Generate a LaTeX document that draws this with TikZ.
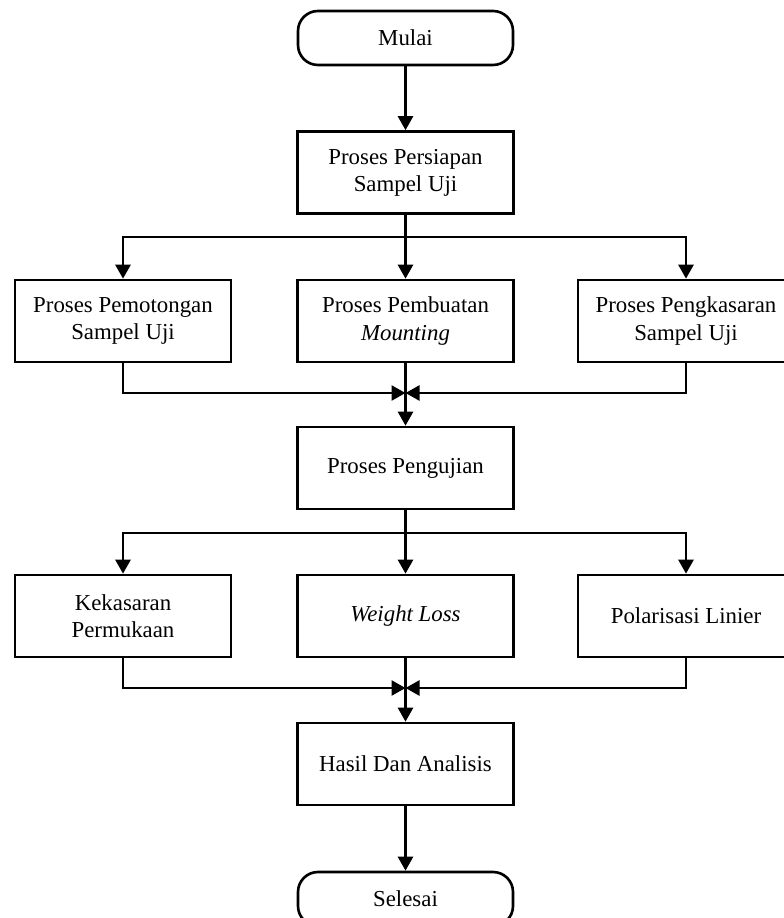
\documentclass[tikz,border=0pt]{standalone}
\usepackage{fontspec}
\setmainfont{Liberation Serif}
\usetikzlibrary{arrows.meta}
\begin{document}
\begin{tikzpicture}[
    font=\fontsize{13}{15.5}\selectfont,
    terminal/.style={rectangle, rounded corners=0.4cm, draw, line width=1.5pt, minimum width=4.3cm, minimum height=1.08cm},
    proses/.style={rectangle, draw, line width=1.5pt, minimum width=4.32cm, minimum height=1.64cm, align=center},
    arrow/.style={-{Triangle[length=0.28cm,width=0.3cm]}, line width=1.5pt}
]
\useasboundingbox (0,0) rectangle (15.68,-18.36);

% Start
\node[terminal] (mulai) at (8.11,-0.76) {Mulai};
\node[proses] (persiapan) at (8.11,-3.45) {Proses Persiapan\\Sampel Uji};

% Preparation
\node[proses] (potong) at (2.46,-6.42) {Proses Pemotongan\\Sampel Uji};
\node[proses] (mounting) at (8.11,-6.42) {Proses Pembuatan\\\textit{Mounting}};
\node[proses] (kasar) at (13.72,-6.42) {Proses Pengkasaran\\Sampel Uji};
\coordinate (b1) at (8.11,-4.74);
\coordinate (m1) at (8.11,-7.86);

% Testing
\node[proses] (pengujian) at (8.11,-9.36) {Proses Pengujian};
\node[proses] (kekasaran) at (2.46,-12.32) {Kekasaran\\Permukaan};
\node[proses] (weight) at (8.11,-12.32) {\textit{Weight Loss}};
\node[proses] (polarisasi) at (13.72,-12.32) {Polarisasi Linier};
\coordinate (b2) at (8.11,-10.66);
\coordinate (m2) at (8.11,-13.76);

% End
\node[proses] (hasil) at (8.11,-15.28) {Hasil Dan Analisis};
\node[terminal] (selesai) at (8.11,-17.98) {Selesai};

% Connect
\draw[arrow] (mulai) -- (persiapan);
\draw[arrow] (persiapan) -- (mounting);
\draw[arrow] (b1) -| (potong);
\draw[arrow] (b1) -| (kasar);
\draw[arrow] (potong) |- (m1);
\draw[arrow] (kasar) |- (m1);
\draw[arrow] (mounting) -- (pengujian);

\draw[arrow] (pengujian) -- (weight);
\draw[arrow] (b2) -| (kekasaran);
\draw[arrow] (b2) -| (polarisasi);
\draw[arrow] (kekasaran) |- (m2);
\draw[arrow] (polarisasi) |- (m2);
\draw[arrow] (weight) -- (hasil);
\draw[arrow] (hasil) -- (selesai);

\end{tikzpicture}
\end{document}
